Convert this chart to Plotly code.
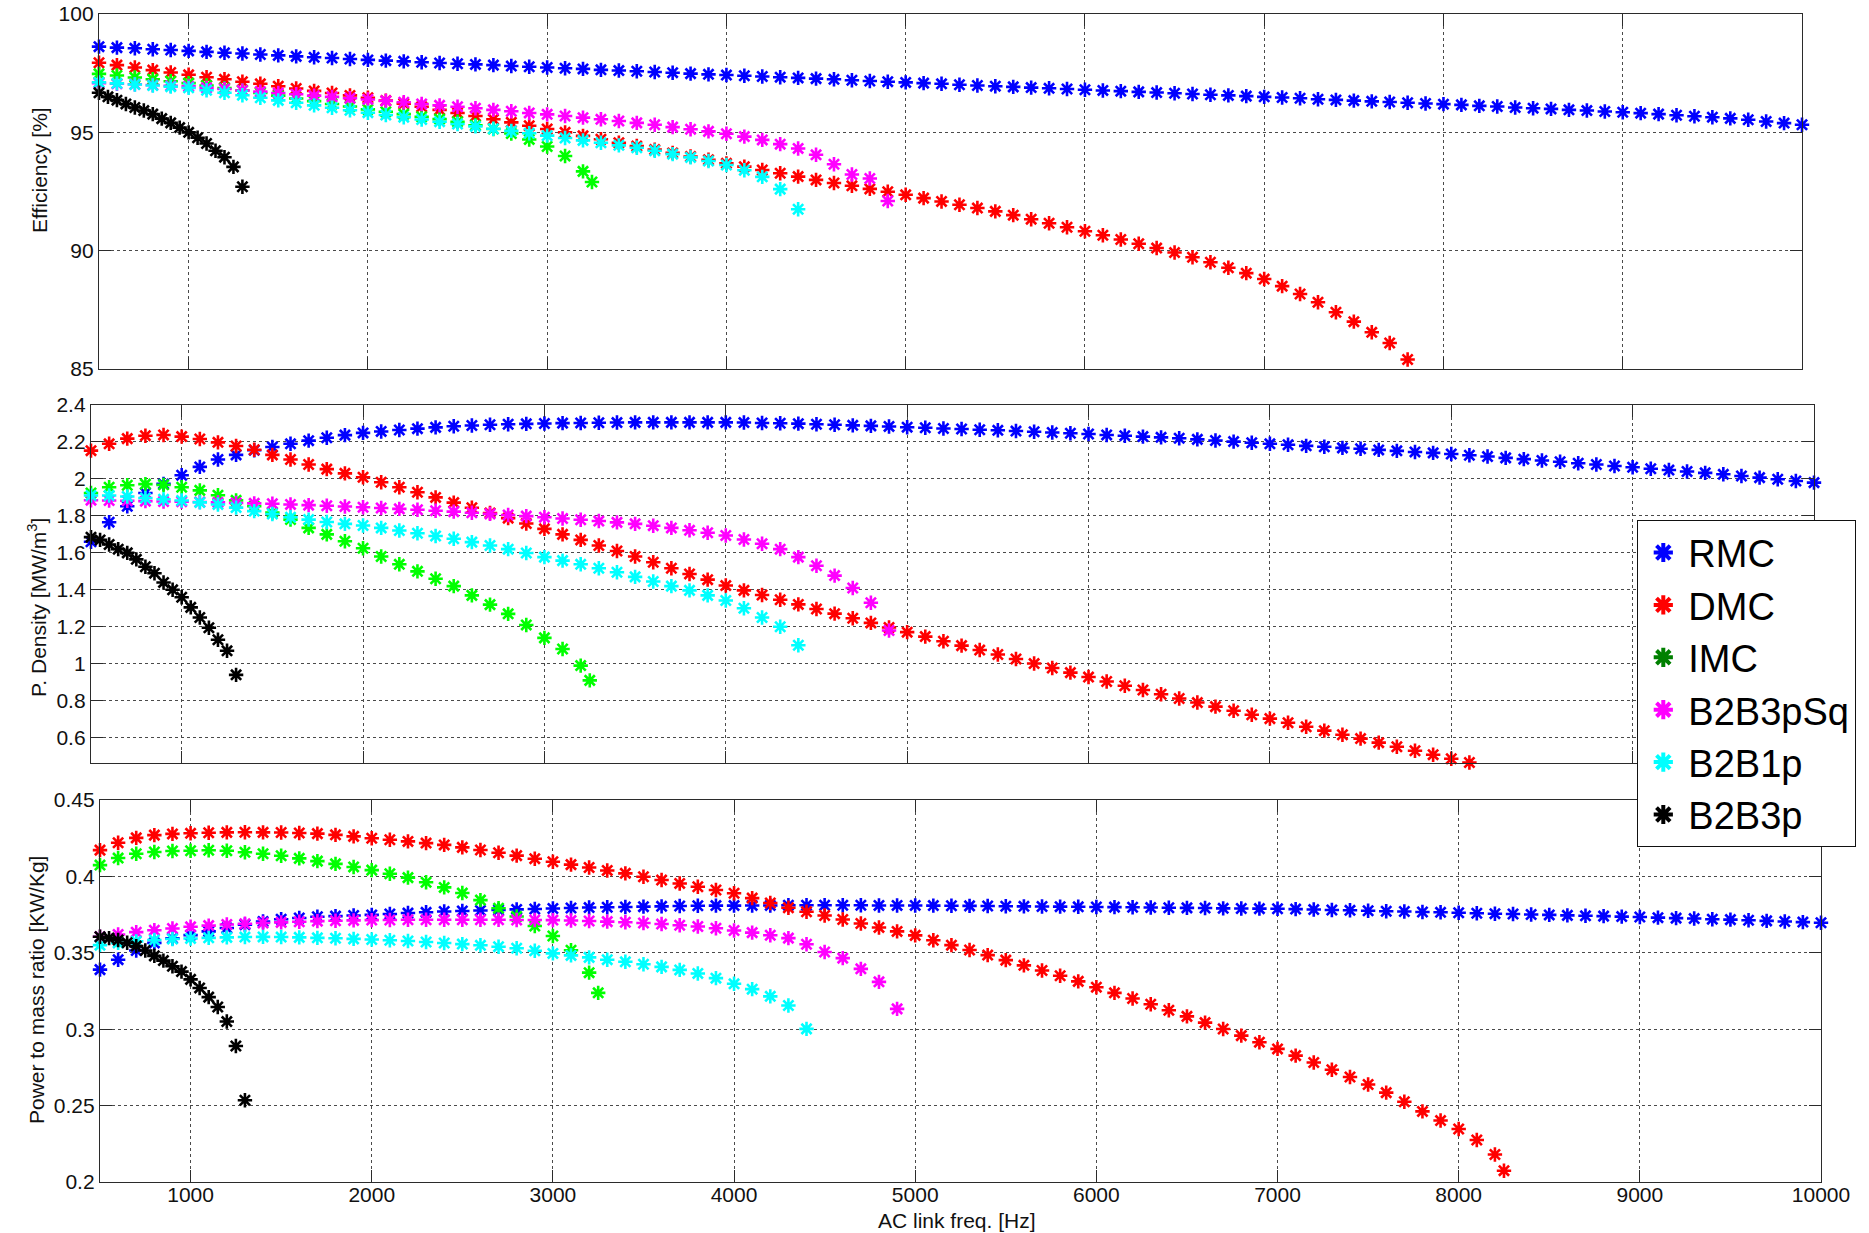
import plotly.graph_objects as go

W, H = 1869, 1233

NAMES = ["RMC", "DMC", "IMC", "B2B3pSq", "B2B1p", "B2B3p"]
COLORS = ["#0000FF", "#FF0000", "#00FF00", "#FF00FF", "#00FFFF", "#000000"]
LEGEND_COLORS = ["#0000FF", "#FF0000", "#008000", "#FF00FF", "#00FFFF", "#000000"]

# AC link frequency sample grids [Hz]
F_RMC = list(range(500, 10001, 100))
F_DMC_EFF = list(range(500, 7801, 100))
F_DMC_PD = list(range(500, 8101, 100))
F_DMC_PM = list(range(500, 8201, 100)) + [8250]
F_IMC = list(range(500, 3201, 100)) + [3250]
F_SQ = list(range(500, 4901, 100))
F_B1P = list(range(500, 4401, 100))
F_B3P = list(range(500, 1301, 50))

# ---- Efficiency [%] ----
RMC_EFF = [98.62, 98.58, 98.55, 98.51, 98.48, 98.44, 98.40, 98.36, 98.33, 98.29,
           98.25, 98.21, 98.17, 98.14, 98.10, 98.06, 98.03, 98.00, 97.96, 97.93,
           97.90, 97.87, 97.84, 97.80, 97.77, 97.74, 97.71, 97.68, 97.64, 97.61,
           97.58, 97.55, 97.52, 97.48, 97.45, 97.42, 97.39, 97.36, 97.33, 97.30,
           97.27, 97.24, 97.20, 97.17, 97.14, 97.11, 97.08, 97.05, 97.01, 96.98,
           96.95, 96.92, 96.89, 96.86, 96.83, 96.80, 96.77, 96.74, 96.71, 96.68,
           96.65, 96.62, 96.59, 96.56, 96.53, 96.50, 96.47, 96.44, 96.40, 96.37,
           96.34, 96.31, 96.28, 96.25, 96.22, 96.19, 96.16, 96.12, 96.09, 96.05,
           96.02, 95.99, 95.95, 95.92, 95.88, 95.85, 95.81, 95.77, 95.72, 95.68,
           95.64, 95.59, 95.53, 95.46, 95.39, 95.32]
DMC_EFF = [97.94, 97.84, 97.74, 97.63, 97.53, 97.43, 97.33, 97.24, 97.14, 97.05,
           96.95, 96.85, 96.75, 96.66, 96.56, 96.46, 96.34, 96.21, 96.08, 95.95,
           95.82, 95.69, 95.55, 95.42, 95.28, 95.14, 95.00, 94.85, 94.71, 94.56,
           94.42, 94.27, 94.13, 93.98, 93.84, 93.69, 93.55, 93.41, 93.27, 93.13,
           92.99, 92.86, 92.74, 92.61, 92.49, 92.36, 92.22, 92.08, 91.94, 91.80,
           91.66, 91.50, 91.33, 91.16, 90.99, 90.82, 90.65, 90.47, 90.29, 90.11,
           89.92, 89.72, 89.51, 89.28, 89.05, 88.80, 88.50, 88.17, 87.82, 87.40,
           87.00, 86.55, 86.10, 85.40]
IMC_EFF = [97.47, 97.40, 97.32, 97.24, 97.16, 97.08, 96.98, 96.87, 96.77, 96.66,
           96.55, 96.43, 96.32, 96.20, 96.09, 95.97, 95.87, 95.77, 95.66, 95.56,
           95.45, 95.30, 95.14, 94.95, 94.70, 94.40, 94.00, 93.35, 92.90]
SQ_EFF = [97.08, 97.05, 97.03, 97.00, 96.97, 96.94, 96.88, 96.83, 96.77, 96.72,
          96.66, 96.61, 96.55, 96.50, 96.44, 96.39, 96.33, 96.27, 96.20, 96.14,
          96.08, 96.02, 95.95, 95.89, 95.82, 95.76, 95.69, 95.62, 95.55, 95.48,
          95.40, 95.32, 95.22, 95.13, 95.04, 94.94, 94.82, 94.68, 94.50, 94.32,
          94.05, 93.65, 93.22, 93.05, 92.10]
B1P_EFF = [97.11, 97.07, 97.02, 96.98, 96.93, 96.88, 96.78, 96.67, 96.57, 96.46,
           96.35, 96.25, 96.14, 96.04, 95.93, 95.83, 95.73, 95.64, 95.54, 95.45,
           95.35, 95.25, 95.15, 95.06, 94.96, 94.86, 94.76, 94.66, 94.56, 94.45,
           94.35, 94.22, 94.08, 93.94, 93.79, 93.62, 93.40, 93.12, 92.60, 91.75]
B3P_EFF = [96.67, 96.50, 96.36, 96.20, 96.05, 95.92, 95.77, 95.58, 95.40, 95.20,
           95.00, 94.77, 94.53, 94.22, 93.95, 93.54, 92.70]

# ---- Power density [MW/m^3] ----
RMC_PD = [1.660, 1.766, 1.852, 1.924, 1.973, 2.020, 2.065, 2.105, 2.130, 2.155,
          2.173, 2.190, 2.207, 2.223, 2.237, 2.249, 2.257, 2.265, 2.272, 2.279,
          2.285, 2.289, 2.293, 2.296, 2.298, 2.300, 2.302, 2.303, 2.304, 2.305,
          2.306, 2.306, 2.306, 2.306, 2.306, 2.306, 2.305, 2.303, 2.301, 2.299,
          2.296, 2.293, 2.290, 2.287, 2.284, 2.280, 2.277, 2.273, 2.270, 2.266,
          2.263, 2.259, 2.255, 2.251, 2.247, 2.243, 2.238, 2.234, 2.229, 2.225,
          2.220, 2.214, 2.208, 2.202, 2.196, 2.190, 2.185, 2.179, 2.174, 2.168,
          2.163, 2.157, 2.152, 2.146, 2.141, 2.135, 2.128, 2.121, 2.114, 2.107,
          2.100, 2.093, 2.085, 2.078, 2.070, 2.063, 2.055, 2.048, 2.040, 2.033,
          2.025, 2.016, 2.007, 1.998, 1.989, 1.980]
DMC_PD = [2.153, 2.190, 2.218, 2.234, 2.238, 2.229, 2.216, 2.198, 2.178, 2.158,
          2.130, 2.105, 2.078, 2.053, 2.030, 2.009, 1.982, 1.955, 1.928, 1.900,
          1.872, 1.844, 1.816, 1.788, 1.759, 1.730, 1.700, 1.670, 1.640, 1.610,
          1.580, 1.549, 1.517, 1.486, 1.455, 1.423, 1.397, 1.372, 1.346, 1.321,
          1.296, 1.271, 1.246, 1.221, 1.196, 1.171, 1.147, 1.122, 1.098, 1.074,
          1.050, 1.026, 1.001, 0.977, 0.952, 0.928, 0.904, 0.881, 0.858, 0.835,
          0.812, 0.790, 0.768, 0.746, 0.724, 0.703, 0.681, 0.659, 0.638, 0.616,
          0.595, 0.573, 0.551, 0.529, 0.508, 0.486, 0.466]
IMC_PD = [1.924, 1.955, 1.966, 1.972, 1.968, 1.955, 1.938, 1.912, 1.884, 1.852,
          1.818, 1.780, 1.735, 1.700, 1.663, 1.625, 1.580, 1.538, 1.500, 1.460,
          1.420, 1.370, 1.320, 1.270, 1.210, 1.140, 1.080, 0.990, 0.910]
SQ_PD = [1.885, 1.883, 1.882, 1.880, 1.878, 1.877, 1.875, 1.873, 1.870, 1.868,
         1.866, 1.862, 1.858, 1.855, 1.851, 1.847, 1.843, 1.838, 1.833, 1.828,
         1.823, 1.817, 1.811, 1.805, 1.799, 1.793, 1.786, 1.779, 1.772, 1.765,
         1.757, 1.747, 1.735, 1.722, 1.709, 1.694, 1.672, 1.649, 1.620, 1.577,
         1.530, 1.477, 1.410, 1.330, 1.180]
B1P_PD = [1.910, 1.910, 1.905, 1.897, 1.890, 1.883, 1.873, 1.862, 1.845, 1.826,
          1.810, 1.793, 1.780, 1.767, 1.757, 1.748, 1.735, 1.721, 1.706, 1.691,
          1.676, 1.658, 1.640, 1.620, 1.599, 1.577, 1.558, 1.538, 1.517, 1.495,
          1.470, 1.445, 1.420, 1.397, 1.370, 1.342, 1.300, 1.250, 1.200, 1.100]
B3P_PD = [1.685, 1.670, 1.645, 1.620, 1.600, 1.565, 1.525, 1.490, 1.440, 1.400,
          1.360, 1.305, 1.250, 1.195, 1.130, 1.070, 0.940]

# ---- Power to mass ratio [KW/Kg] ----
RMC_PM = [0.3390, 0.3455, 0.3515, 0.3565, 0.3595, 0.3616, 0.3640, 0.3662, 0.3684, 0.3705,
          0.3720, 0.3728, 0.3736, 0.3740, 0.3744, 0.3748, 0.3754, 0.3760, 0.3765, 0.3770,
          0.3774, 0.3777, 0.3780, 0.3784, 0.3787, 0.3790, 0.3793, 0.3796, 0.3798, 0.3800,
          0.3802, 0.3804, 0.3806, 0.3808, 0.3809, 0.3809, 0.3810, 0.3810, 0.3811, 0.3811,
          0.3811, 0.3811, 0.3811, 0.3810, 0.3810, 0.3810, 0.3809, 0.3808, 0.3807, 0.3806,
          0.3805, 0.3804, 0.3803, 0.3802, 0.3801, 0.3800, 0.3799, 0.3798, 0.3796, 0.3795,
          0.3794, 0.3793, 0.3791, 0.3790, 0.3789, 0.3788, 0.3786, 0.3783, 0.3780, 0.3778,
          0.3775, 0.3772, 0.3770, 0.3767, 0.3765, 0.3762, 0.3759, 0.3756, 0.3754, 0.3751,
          0.3748, 0.3745, 0.3742, 0.3740, 0.3737, 0.3734, 0.3730, 0.3727, 0.3724, 0.3720,
          0.3717, 0.3713, 0.3709, 0.3705, 0.3701, 0.3697]
DMC_PM = [0.4172, 0.4220, 0.4252, 0.4270, 0.4278, 0.4282, 0.4286, 0.4288, 0.4289, 0.4288,
          0.4287, 0.4284, 0.4280, 0.4272, 0.4262, 0.4250, 0.4240, 0.4229, 0.4218, 0.4206,
          0.4190, 0.4173, 0.4155, 0.4136, 0.4116, 0.4096, 0.4077, 0.4058, 0.4039, 0.4020,
          0.3998, 0.3976, 0.3954, 0.3932, 0.3911, 0.3890, 0.3858, 0.3826, 0.3795, 0.3769,
          0.3744, 0.3718, 0.3692, 0.3666, 0.3640, 0.3614, 0.3582, 0.3550, 0.3518, 0.3485,
          0.3452, 0.3418, 0.3384, 0.3350, 0.3313, 0.3275, 0.3238, 0.3201, 0.3163, 0.3124,
          0.3084, 0.3043, 0.3001, 0.2958, 0.2915, 0.2871, 0.2827, 0.2782, 0.2735, 0.2687,
          0.2638, 0.2585, 0.2525, 0.2462, 0.2402, 0.2347, 0.2275, 0.2180, 0.2074]
IMC_PM = [0.4074, 0.4120, 0.4148, 0.4160, 0.4166, 0.4168, 0.4171, 0.4168, 0.4158, 0.4148,
          0.4135, 0.4118, 0.4100, 0.4082, 0.4062, 0.4041, 0.4017, 0.3992, 0.3962, 0.3928,
          0.3891, 0.3845, 0.3792, 0.3738, 0.3675, 0.3610, 0.3517, 0.3370, 0.3238]
SQ_PM = [0.3605, 0.3620, 0.3635, 0.3648, 0.3659, 0.3670, 0.3678, 0.3685, 0.3690, 0.3695,
         0.3699, 0.3703, 0.3707, 0.3710, 0.3712, 0.3714, 0.3715, 0.3716, 0.3716, 0.3716,
         0.3716, 0.3716, 0.3716, 0.3715, 0.3715, 0.3714, 0.3711, 0.3708, 0.3704, 0.3700,
         0.3695, 0.3688, 0.3680, 0.3672, 0.3661, 0.3646, 0.3632, 0.3615, 0.3596, 0.3556,
         0.3505, 0.3465, 0.3395, 0.3310, 0.3133]
B1P_PM = [0.3550, 0.3565, 0.3575, 0.3584, 0.3590, 0.3594, 0.3598, 0.3601, 0.3603, 0.3604,
          0.3603, 0.3601, 0.3598, 0.3595, 0.3591, 0.3587, 0.3582, 0.3577, 0.3571, 0.3564,
          0.3557, 0.3549, 0.3540, 0.3530, 0.3513, 0.3496, 0.3483, 0.3470, 0.3455, 0.3441,
          0.3425, 0.3408, 0.3388, 0.3365, 0.3334, 0.3297, 0.3262, 0.3215, 0.3155, 0.3002]
B3P_PM = [0.3605, 0.3596, 0.3584, 0.3566, 0.3544, 0.3515, 0.3480, 0.3449, 0.3412, 0.3377,
          0.3326, 0.3270, 0.3210, 0.3145, 0.3050, 0.2890, 0.2535]

X_TICKS = [1000, 2000, 3000, 4000, 5000, 6000, 7000, 8000, 9000, 10000]
X_TICK_TEXT = ["1000", "2000", "3000", "4000", "5000", "6000", "7000", "8000", "9000", "10000"]
EFF_TICKS = [85, 90, 95, 100]
PD_TICKS = [0.6, 0.8, 1.0, 1.2, 1.4, 1.6, 1.8, 2.0, 2.2, 2.4]
PM_TICKS = [0.2, 0.25, 0.3, 0.35, 0.4, 0.45]

panels = [
    ("x", "y", [(F_RMC, RMC_EFF), (F_DMC_EFF, DMC_EFF), (F_IMC, IMC_EFF),
                (F_SQ, SQ_EFF), (F_B1P, B1P_EFF), (F_B3P, B3P_EFF)]),
    ("x2", "y2", [(F_RMC, RMC_PD), (F_DMC_PD, DMC_PD), (F_IMC, IMC_PD),
                  (F_SQ, SQ_PD), (F_B1P, B1P_PD), (F_B3P, B3P_PD)]),
    ("x3", "y3", [(F_RMC, RMC_PM), (F_DMC_PM, DMC_PM), (F_IMC, IMC_PM),
                  (F_SQ, SQ_PM), (F_B1P, B1P_PM), (F_B3P, B3P_PM)]),
]

FONT = "Liberation Sans, Arial, Helvetica, sans-serif"

fig = go.Figure()
for xa, ya, series in panels:
    for (fx, fy), name, col in zip(series, NAMES, COLORS):
        fig.add_trace(go.Scatter(
            x=fx, y=fy, mode="markers", name=name, showlegend=False,
            xaxis=xa, yaxis=ya, cliponaxis=False,
            marker=dict(symbol="asterisk-open", size=12, color=col,
                        line=dict(color=col, width=2.6)),
        ))

# legend entries
for name, col in zip(NAMES, LEGEND_COLORS):
    fig.add_trace(go.Scatter(
        x=[None], y=[None], mode="markers", name=name, showlegend=True,
        xaxis="x3", yaxis="y3",
        marker=dict(symbol="asterisk-open", size=30, color=col,
                    line=dict(color=col, width=4)),
    ))


def px_x(a, b):
    return [a / W, b / W]


def px_y(top, bottom):
    return [(H - bottom) / H, (H - top) / H]


axis_common = dict(
    showline=True, linecolor="#2b2b2b", linewidth=1.3, mirror="ticks",
    ticks="inside", ticklen=12, tickwidth=1.3, tickcolor="#2b2b2b",
    showgrid=True, gridcolor="#4a4a4a", griddash="dot", gridwidth=1,
    zeroline=False, automargin=False, ticklabeloverflow="allow",
    tickfont=dict(family=FONT, size=21, color="#111111"),
)

fig.update_layout(
    width=W, height=H, autosize=False,
    margin=dict(l=0, r=0, t=0, b=0),
    paper_bgcolor="white", plot_bgcolor="white",
    font=dict(family=FONT, size=21, color="#111111"),
    showlegend=True,
    legend=dict(
        x=1637 / W, y=(H - 520) / H, xanchor="left", yanchor="top",
        bgcolor="white", bordercolor="#111111", borderwidth=1.3,
        font=dict(family=FONT, size=38, color="#000000"),
        itemwidth=40, tracegroupgap=0,
    ),
    xaxis=dict(axis_common, domain=px_x(99, 1802), range=[500, 10000],
               tickvals=X_TICKS, showticklabels=False, anchor="y"),
    yaxis=dict(axis_common, domain=px_y(14, 369), range=[85, 100],
               tickvals=EFF_TICKS, anchor="x"),
    xaxis2=dict(axis_common, domain=px_x(91, 1814), range=[500, 10000],
                tickvals=X_TICKS, showticklabels=False, anchor="y2"),
    yaxis2=dict(axis_common, domain=px_y(405, 763), range=[0.463, 2.4],
                tickvals=PD_TICKS, anchor="x2"),
    xaxis3=dict(axis_common, domain=px_x(100, 1821), range=[500, 10000],
                tickvals=X_TICKS, ticktext=X_TICK_TEXT, anchor="y3",
                ticklabelstandoff=-6),
    yaxis3=dict(axis_common, domain=px_y(800, 1182), range=[0.2, 0.45],
                tickvals=PM_TICKS, anchor="x3"),
)

title_font = dict(family=FONT, size=21, color="#111111")
annotations = [
    dict(text="Efficiency [%]", x=39 / W, y=(H - 170) / H, textangle=-90,
         yanchor="middle"),
    dict(text="P. Density [MW/m<sup>3</sup>]", x=37 / W, y=(H - 608) / H,
         textangle=-90, yanchor="middle"),
    dict(text="Power to mass ratio [KW/Kg]", x=36 / W, y=(H - 990) / H,
         textangle=-90, yanchor="middle"),
    dict(text="AC link freq. [Hz]", x=957 / W, y=(H - 1220) / H, textangle=0,
         yanchor="middle"),
]
for a in annotations:
    fig.add_annotation(xref="paper", yref="paper", showarrow=False,
                       xanchor="center", font=title_font, **a)

fig.write_html("out.html", config={"displayModeBar": False})

# remove the browser's default page margin so the figure fills the window exactly
with open("out.html", "r", encoding="utf-8") as fh:
    page = fh.read()
page = page.replace("<head>", "<head><style>html,body{margin:0;padding:0;overflow:hidden;}</style>", 1)
with open("out.html", "w", encoding="utf-8") as fh:
    fh.write(page)
